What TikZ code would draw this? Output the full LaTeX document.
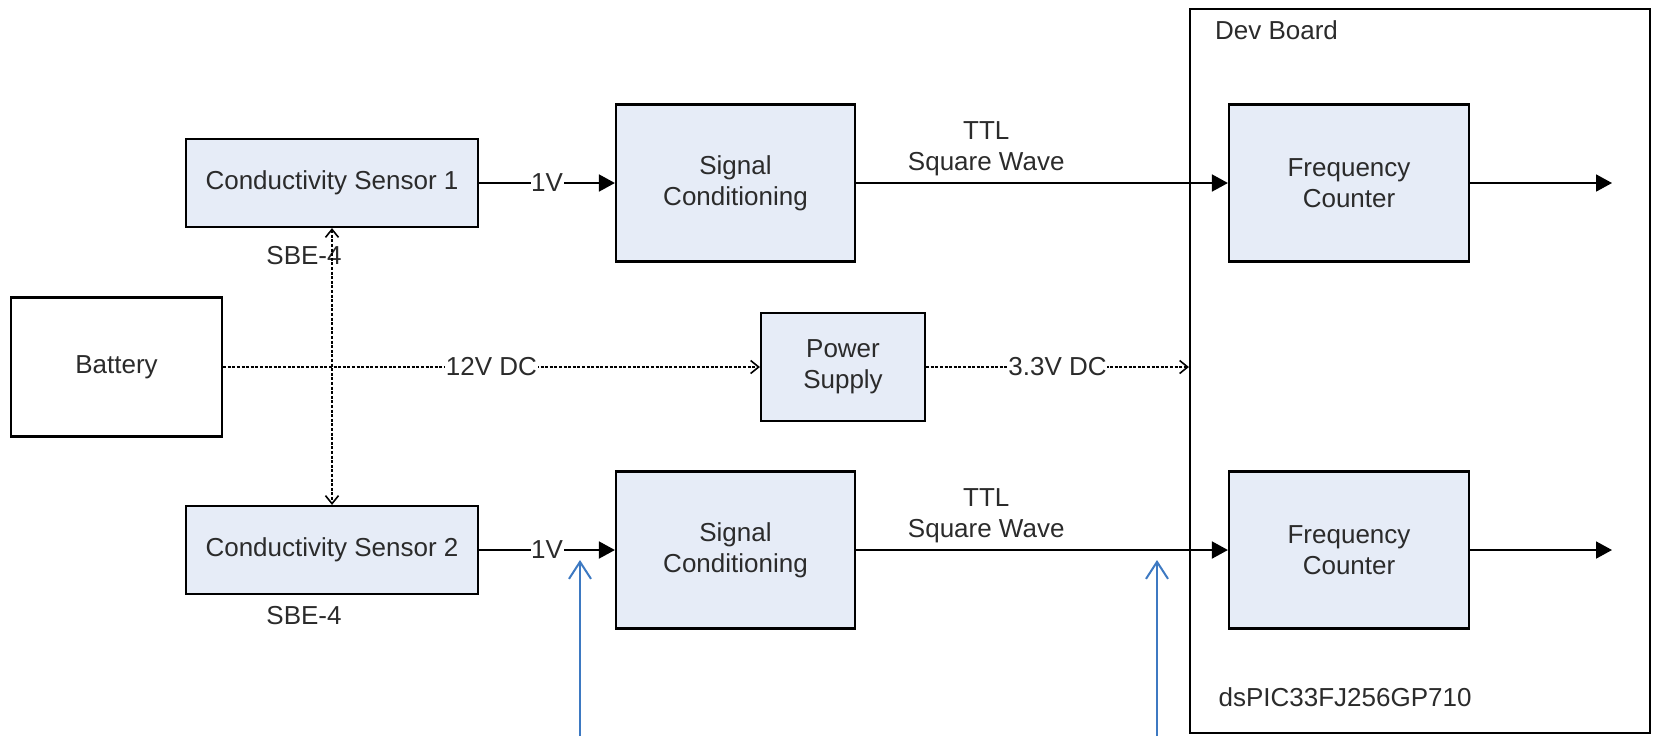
\documentclass[tikz,border=0pt]{standalone}
\usepackage{fontspec}
\setmainfont{Liberation Sans}
\usetikzlibrary{positioning, arrows.meta, calc}
\definecolor{ink}{HTML}{2b2b2b}
\definecolor{blockfill}{HTML}{E6ECF7}
\definecolor{probe}{HTML}{3D79C2}

\begin{document}
\begin{tikzpicture}[x=0.5pt, y=-0.5pt, font=\fontsize{13}{15.5}\selectfont,
    blk/.style={rectangle, draw=black, line width=1.1pt, fill=blockfill, align=center, text=ink},
    sig/.style={-{Triangle[length=8pt, width=8.5pt]}, line width=0.9pt},
    pwr/.style={-{Straight Barb[length=4pt, width=6.5pt]}, line width=0.8pt, dash pattern=on 1.5pt off 0.8pt},
    lbl/.style={fill=white, inner sep=0.3pt, text=ink}]
  \useasboundingbox (0,0) rectangle (1657,736);
  \node[rectangle, draw=black, line width=1.1pt, minimum width=230pt, minimum height=361.75pt] (dev) at (1420,371) {};
  \node[anchor=west, text=ink] (devlbl) at (1208,30) {Dev Board};
  \node[text=ink] (mcu) at (1345,697) {dsPIC33FJ256GP710};

  \node[blk, minimum width=146pt, minimum height=44pt] (cs1) at (332,183) {Conductivity Sensor 1};
  \node[text=ink] (sbe1) at (304,256) {SBE-4};
  \node[blk, minimum width=119.5pt, minimum height=78.5pt] (sc1) at (735.5,183) {Signal\\Conditioning};
  \node[blk, minimum width=120pt, minimum height=78.5pt] (fc1) at (1349,183) {Frequency\\Counter};
  \coordinate (out1) at (1612,183);

  \node[rectangle, draw=black, line width=1.1pt, fill=white, minimum width=105.5pt, minimum height=69.5pt, text=ink] (bat) at (116.5,367) {Battery};
  \node[blk, minimum width=82pt, minimum height=54pt] (ps) at (843,367) {Power\\Supply};

  \node[blk, minimum width=146pt, minimum height=44pt] (cs2) at (332,550) {Conductivity Sensor 2};
  \node[text=ink] (sbe2) at (304,616) {SBE-4};
  \node[blk, minimum width=119.5pt, minimum height=78.5pt] (sc2) at (735.5,550) {Signal\\Conditioning};
  \node[blk, minimum width=120pt, minimum height=78.5pt] (fc2) at (1349,550) {Frequency\\Counter};
  \coordinate (out2) at (1612,550);

  \draw[sig] (cs1) -- node[lbl]{1V} (sc1);
  \draw[sig] (sc1) -- node[above, pos=0.35, align=center, text=ink]{TTL\\Square Wave} (fc1);
  \draw[sig] (fc1) -- (out1);
  \draw[sig] (cs2) -- node[lbl]{1V} (sc2);
  \draw[sig] (sc2) -- node[above, pos=0.35, align=center, text=ink]{TTL\\Square Wave} (fc2);
  \draw[sig] (fc2) -- (out2);

  \draw[pwr] (bat) -- node[lbl]{12V DC} (ps);
  \draw[pwr] (ps) -- node[lbl]{3.3V DC} (ps -| dev.west);
  \draw[pwr, {Straight Barb[length=4pt, width=6.5pt]}-{Straight Barb[length=4pt, width=6.5pt]}] (cs1) -- (cs2);

  \coordinate (pa0) at (580,736); \coordinate (pa1) at (580,560);
  \coordinate (pb0) at (1157,736); \coordinate (pb1) at (1157,560);
  \draw[probe, line width=1pt, -{Straight Barb[length=8.5pt, width=11pt]}] (pa0) -- (pa1);
  \draw[probe, line width=1pt, -{Straight Barb[length=8.5pt, width=11pt]}] (pb0) -- (pb1);
\end{tikzpicture}
\end{document}
